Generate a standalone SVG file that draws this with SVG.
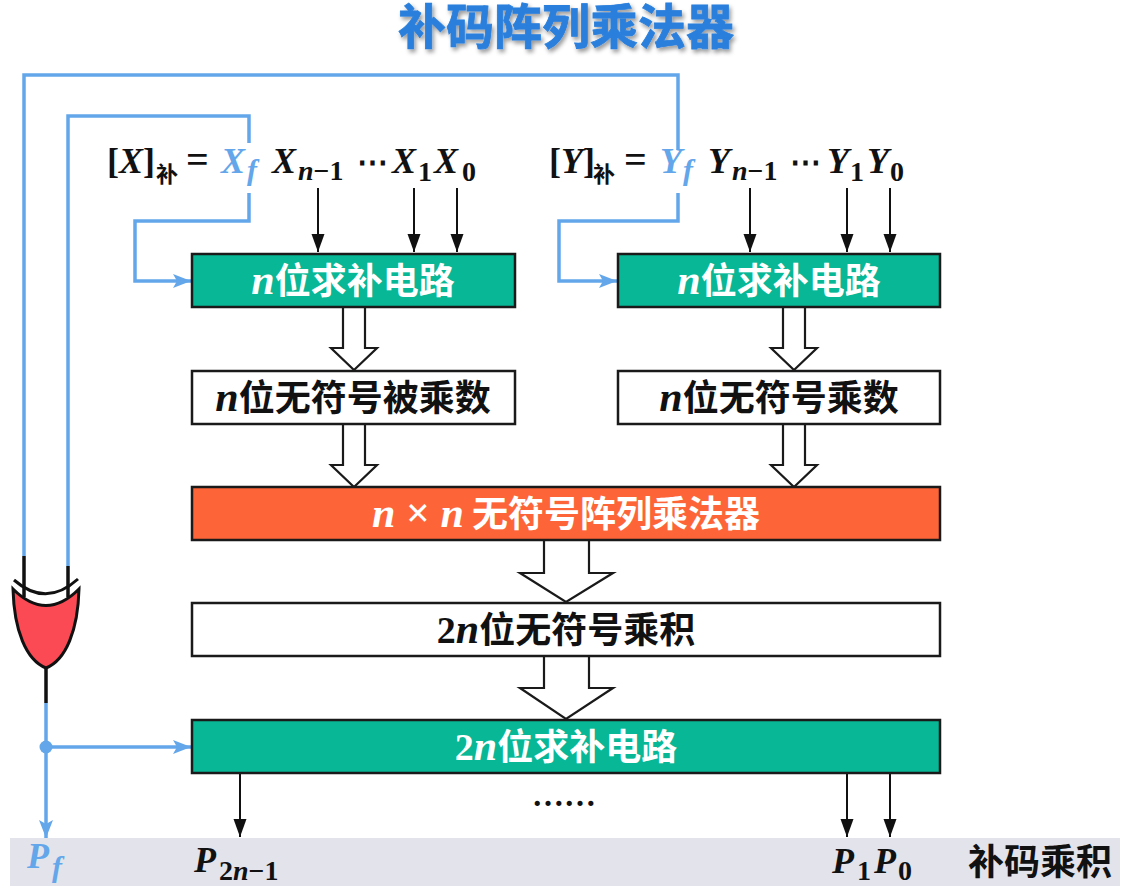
<svg xmlns="http://www.w3.org/2000/svg" width="1128" height="888" viewBox="0 0 1128 888">
<defs>
<style>
.box{stroke:#1a1a1a;stroke-width:2.5}
.green{fill:#07b795}.orange{fill:#fd6539}.white{fill:#fff}
.cjk{font-family:"Noto Sans CJK SC",sans-serif;font-weight:700}
.m{font-family:"Liberation Serif","DejaVu Serif",serif;font-weight:700;font-style:italic}
.r{font-family:"Liberation Serif","DejaVu Serif",serif;font-weight:700;font-style:normal}
.lbl{font-size:36px;text-anchor:middle;fill:#111}
.w{fill:#fff}
.blue{fill:#63a6ea}
.k{fill:#111}
.sub{font-size:28px}
.wire{fill:none;stroke:#63a6ea;stroke-width:3.5}
.bk{fill:none;stroke:#111;stroke-width:2}
.hollow{fill:#fff;stroke:#1a1a1a;stroke-width:2.2;stroke-linejoin:miter}
</style>
<marker id="ab" markerUnits="userSpaceOnUse" markerWidth="20" markerHeight="14" refX="18" refY="7" orient="auto"><path d="M0 0L18 7L0 14L4 7Z" fill="#63a6ea"/></marker>
<marker id="ak" markerUnits="userSpaceOnUse" markerWidth="18" markerHeight="14" refX="18" refY="6.500" orient="auto"><path d="M0 0L18 6.500L0 13Z" fill="#111"/></marker>
<filter id="sh" x="-5%" y="-20%" width="110%" height="150%"><feDropShadow dx="2" dy="3" stdDeviation="2" flood-color="#000" flood-opacity=".4"/></filter>
</defs>
<rect width="1128" height="888" fill="#fff"/>
<rect id="band" x="10" y="838" width="1110" height="48" fill="#e2e3eb"/>
<text id="title" x="566" y="44" text-anchor="middle" font-family="'Liberation Sans','Noto Sans CJK SC',sans-serif" font-weight="700" font-size="48" fill="#2a7fdc" stroke="#2a7fdc" stroke-width=".8" filter="url(#sh)">补码阵列乘法器</text>

<g id="connectors">
<path class="wire" d="M24 556V75H678V150"/>
<path class="wire" d="M68 566V116H249V143"/>
<path class="wire" marker-end="url(#ab)" d="M249 193V221H135V281H191"/>
<path class="wire" marker-end="url(#ab)" d="M678 193V221H559V281H617"/>
<path class="wire" d="M46 703V747"/>
<path class="wire" marker-end="url(#ab)" d="M46 747V838"/>
<path class="wire" marker-end="url(#ab)" d="M46 747H191"/>
<circle cx="46" cy="747" r="6.500" fill="#63a6ea"/>
<path class="bk" marker-end="url(#ak)" d="M318 188V252"/>
<path class="bk" marker-end="url(#ak)" d="M414 188V252"/>
<path class="bk" marker-end="url(#ak)" d="M457 188V252"/>
<path class="bk" marker-end="url(#ak)" d="M750 188V252"/>
<path class="bk" marker-end="url(#ak)" d="M847 188V252"/>
<path class="bk" marker-end="url(#ak)" d="M890 188V252"/>
<path class="bk" marker-end="url(#ak)" d="M240 773V837"/>
<path class="bk" marker-end="url(#ak)" d="M847 773V837"/>
<path class="bk" marker-end="url(#ak)" d="M890 773V837"/>
<path class="hollow" d="M343 307V348H331L354 370L377 348H365V307"/>
<path class="hollow" d="M783 307V348H771L794 370L817 348H805V307"/>
<path class="hollow" d="M343 424V465H331L354 487L377 465H365V424"/>
<path class="hollow" d="M783 424V465H771L794 487L817 465H805V424"/>
<path class="hollow" d="M544 540V573H520L566 602L613 573H589V540"/>
<path class="hollow" d="M544 657V688H520L566 719L613 688H589V657"/>
</g>

<g id="xor-gate">
<path d="M24 556V597M68 566V597M46 668V703" fill="none" stroke="#111" stroke-width="3.500"/>
<path d="M14 580Q46 608 78 579" fill="none" stroke="#111" stroke-width="3"/>
<path d="M13 589Q46 622 79 589C78 630 66 660 46 668C26 660 14 630 13 589Z" fill="#fb4a54" stroke="#111" stroke-width="3"/>
</g>

<g id="node-x-comp"><rect class="box green" x="192" y="254" width="323" height="53"/>
<text class="lbl" x="353" y="294"><tspan class="m w" font-size="42">n</tspan><tspan class="cjk w">位求补电路</tspan></text></g>
<g id="node-y-comp"><rect class="box green" x="618" y="254" width="322" height="53"/>
<text class="lbl" x="779" y="294"><tspan class="m w" font-size="42">n</tspan><tspan class="cjk w">位求补电路</tspan></text></g>
<g id="node-x-mag"><rect class="box white" x="192" y="371" width="323" height="53"/>
<text class="lbl" x="353" y="411"><tspan class="m" font-size="42">n</tspan><tspan class="cjk">位无符号被乘数</tspan></text></g>
<g id="node-y-mag"><rect class="box white" x="618" y="371" width="322" height="53"/>
<text class="lbl" x="779" y="411"><tspan class="m" font-size="42">n</tspan><tspan class="cjk">位无符号乘数</tspan></text></g>
<g id="node-mult"><rect class="box orange" x="192" y="487" width="748" height="53"/>
<text class="lbl" x="566" y="527"><tspan class="m w" font-size="42">n</tspan><tspan class="r w" font-size="42"> × </tspan><tspan class="m w" font-size="42">n</tspan><tspan class="cjk w"> 无符号阵列乘法器</tspan></text></g>
<g id="node-product"><rect class="box white" x="192" y="603" width="748" height="53"/>
<text class="lbl" x="566" y="643"><tspan class="r" font-size="38">2</tspan><tspan class="m" font-size="42">n</tspan><tspan class="cjk">位无符号乘积</tspan></text></g>
<g id="node-2n-comp"><rect class="box green" x="192" y="720" width="748" height="53"/>
<text class="lbl" x="566" y="760"><tspan class="r w" font-size="38">2</tspan><tspan class="m w" font-size="42">n</tspan><tspan class="cjk w">位求补电路</tspan></text></g>

<g id="x-formula" font-size="36">
<text class="r k" x="107" y="173">[<tspan class="m">X</tspan>]</text>
<text class="cjk k" x="156" y="182" font-size="22">补</text>
<text class="r k" x="186" y="173" font-size="40">=</text>
<text class="m blue" x="221" y="173">X</text>
<text class="m blue" x="247" y="180" font-size="30">f</text>
<text class="m k" x="272" y="173">X</text>
<text class="m k sub" x="298" y="180">n<tspan class="r">−1</tspan></text>
<text class="r k" x="357" y="173" font-size="31">⋯</text>
<text class="m k" x="392" y="173">X</text>
<text class="r k sub" x="418" y="181">1</text>
<text class="m k" x="434" y="173">X</text>
<text class="r k sub" x="462" y="181">0</text>
</g>
<g id="y-formula" font-size="36">
<text class="r k" x="549" y="173">[<tspan class="m">Y</tspan>]</text>
<text class="cjk k" x="593" y="182" font-size="22">补</text>
<text class="r k" x="624" y="173" font-size="40">=</text>
<text class="m blue" x="660" y="173">Y</text>
<text class="m blue" x="683" y="180" font-size="30">f</text>
<text class="m k" x="708" y="173">Y</text>
<text class="m k sub" x="732" y="180">n<tspan class="r">−1</tspan></text>
<text class="r k" x="790" y="173" font-size="31">⋯</text>
<text class="m k" x="827" y="173">Y</text>
<text class="r k sub" x="850" y="181">1</text>
<text class="m k" x="867" y="173">Y</text>
<text class="r k sub" x="890" y="181">0</text>
</g>

<text id="dots" class="r k" x="532" y="806" font-size="32">……</text>
<g id="outputs" font-size="36">
<text class="m blue" x="27" y="868">P</text>
<text class="m blue" x="52" y="877" font-size="30">f</text>
<text class="m k" x="194" y="872">P</text>
<text class="r k sub" x="219" y="880">2<tspan class="m">n</tspan>−1</text>
<text class="m k" x="832" y="873">P</text>
<text class="r k sub" x="857" y="880">1</text>
<text class="m k" x="874" y="873">P</text>
<text class="r k sub" x="898" y="880">0</text>
<text class="cjk k" x="968" y="875" font-size="36">补码乘积</text>
</g>
</svg>
